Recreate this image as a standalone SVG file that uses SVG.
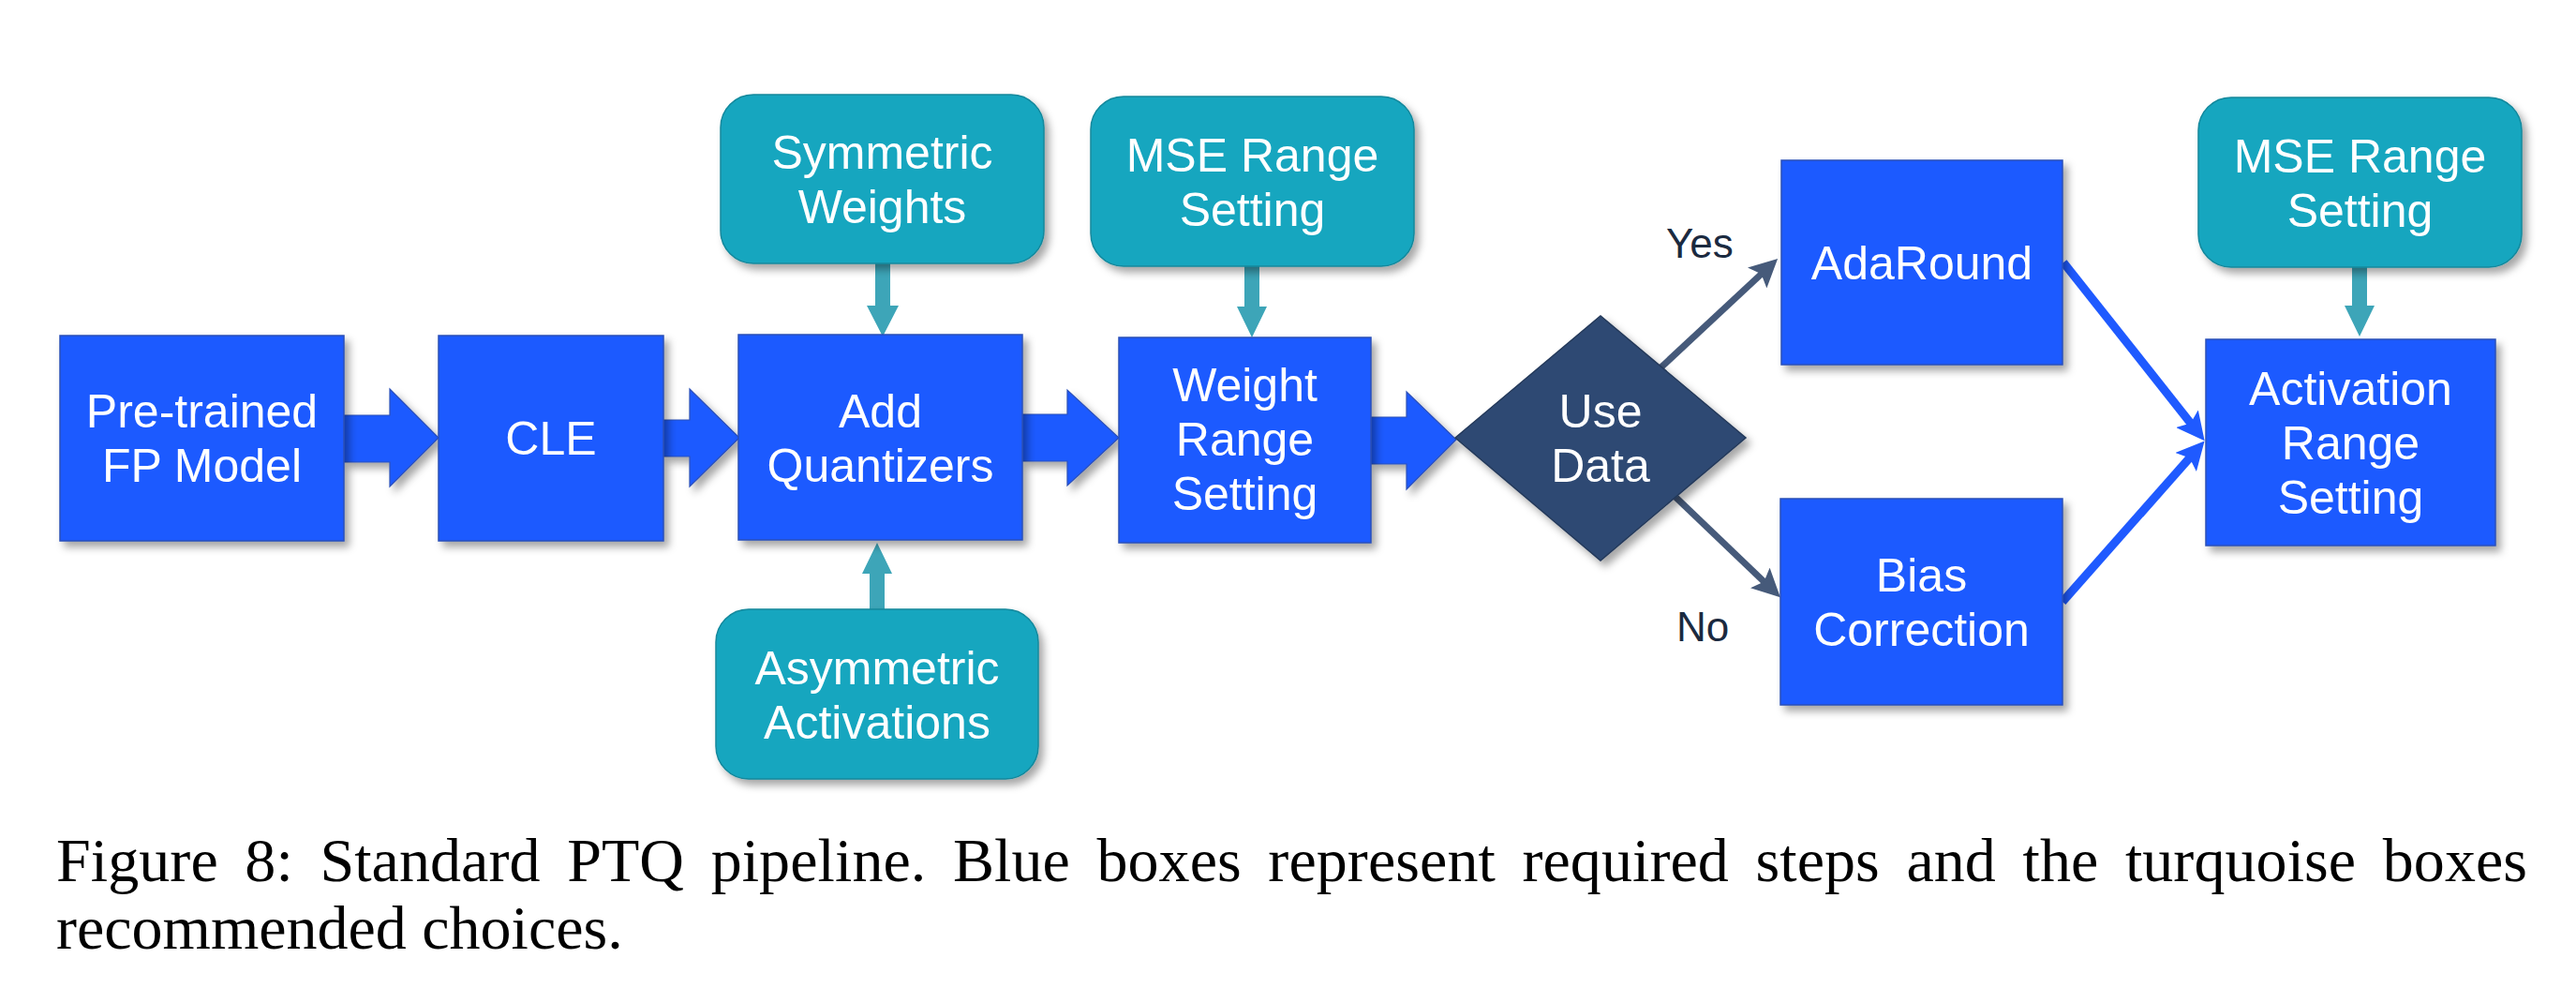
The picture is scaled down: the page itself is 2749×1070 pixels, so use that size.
<svg xmlns="http://www.w3.org/2000/svg" width="2749" height="1070" viewBox="0 0 2749 1070">
<defs>
<filter id="sh" x="-10%" y="-10%" width="130%" height="130%">
<feDropShadow dx="5" dy="6" stdDeviation="4" flood-color="#000" flood-opacity="0.35"/>
</filter>
<marker id="hDark" markerUnits="userSpaceOnUse" viewBox="0 0 30 30" markerWidth="30" markerHeight="30" refX="8" refY="15" orient="auto">
<path d="M0,0 L30,15 L0,30 L6,15 Z" fill="#465A7A"/>
</marker>
<marker id="hBlue" markerUnits="userSpaceOnUse" viewBox="0 0 30 30" markerWidth="30" markerHeight="30" refX="8" refY="15" orient="auto">
<path d="M0,0 L30,15 L0,30 L6,15 Z" fill="#1F5AFF"/>
</marker>
</defs>
<style>
.blue{fill:#1F5AFF;stroke:#2A4FB8;stroke-width:1.5}
.turq{fill:#17A6BF;stroke:#12889C;stroke-width:1.5}
.dia{fill:#2F4A73;stroke:#24395A;stroke-width:1.5}
.blk{fill:#1F5AFF;stroke:#2A4FB8;stroke-width:1.2}
.tc{fill:#3DA5B8}
.lbl{font-family:"Liberation Sans",Arial,sans-serif;font-size:50px;fill:#FFFFFF;text-anchor:middle}
.yn{font-family:"Liberation Sans",Arial,sans-serif;font-size:44px;fill:#1B2A40}
.dk{fill:none;stroke:#465A7A;stroke-width:7}
.bl{fill:none;stroke:#1F5AFF;stroke-width:9}
.cap{font-family:"Liberation Serif","Times New Roman",serif;font-size:66px;fill:#000}
</style>
<rect width="2749" height="1070" fill="#FFFFFF"/>
<g id="connectors">
<polygon class="blk" filter="url(#sh)" points="367,443 416,443 416,415 468,467 416,519 416,493 367,493"/>
<polygon class="blk" filter="url(#sh)" points="708,448 736,448 736,415 789,467 736,519 736,487 708,487"/>
<polygon class="blk" filter="url(#sh)" points="1091,442 1139,442 1139,416 1194,467 1139,518 1139,492 1091,492"/>
<polygon class="blk" filter="url(#sh)" points="1463,445 1501,445 1501,418 1554,469 1501,522 1501,495 1463,495"/>
<polygon class="tc" points="934,281 950,281 950,326 959,326 942,359 925,326 934,326"/>
<polygon class="tc" points="928,650 944,650 944,612 952,612 936,579 920,612 928,612"/>
<polygon class="tc" points="1328,284 1344,284 1344,327 1352,327 1336,360 1320,327 1328,327"/>
<polygon class="tc" points="2510,285 2526,285 2526,326 2534,326 2518,359 2502,326 2510,326"/>
<line class="dk" x1="1765" y1="399" x2="1881" y2="291" marker-end="url(#hDark)"/>
<line class="dk" x1="1770" y1="513" x2="1884" y2="622" marker-end="url(#hDark)"/>
<line class="bl" x1="2202" y1="280" x2="2339" y2="453" marker-end="url(#hBlue)"/>
<line class="bl" x1="2201" y1="642" x2="2338" y2="487" marker-end="url(#hBlue)"/>
<text class="yn" x="1778" y="275">Yes</text>
<text class="yn" x="1789" y="684">No</text>
</g>
<g id="pretrained">
<rect class="blue" filter="url(#sh)" x="64" y="358" width="303" height="219"/>
<text class="lbl" x="215.5" y="456">Pre-trained</text>
<text class="lbl" x="215.5" y="514">FP Model</text>
</g>
<g id="cle">
<rect class="blue" filter="url(#sh)" x="468" y="358" width="240" height="219"/>
<text class="lbl" x="588" y="485">CLE</text>
</g>
<g id="addquant">
<rect class="blue" filter="url(#sh)" x="788" y="357" width="303" height="219"/>
<text class="lbl" x="939.5" y="456">Add</text>
<text class="lbl" x="939.5" y="514">Quantizers</text>
</g>
<g id="symweights">
<rect class="turq" filter="url(#sh)" x="769" y="101" width="345" height="180" rx="35" ry="35"/>
<text class="lbl" x="941.5" y="180">Symmetric</text>
<text class="lbl" x="941.5" y="238">Weights</text>
</g>
<g id="asymact">
<rect class="turq" filter="url(#sh)" x="764" y="650" width="344" height="181" rx="35" ry="35"/>
<text class="lbl" x="936" y="730">Asymmetric</text>
<text class="lbl" x="936" y="788">Activations</text>
</g>
<g id="mse1">
<rect class="turq" filter="url(#sh)" x="1164" y="103" width="345" height="181" rx="35" ry="35"/>
<text class="lbl" x="1336.5" y="183">MSE Range</text>
<text class="lbl" x="1336.5" y="241">Setting</text>
</g>
<g id="weightrange">
<rect class="blue" filter="url(#sh)" x="1194" y="360" width="269" height="219"/>
<text class="lbl" x="1328.5" y="428">Weight</text>
<text class="lbl" x="1328.5" y="486">Range</text>
<text class="lbl" x="1328.5" y="544">Setting</text>
</g>
<g id="usedata">
<polygon class="dia" filter="url(#sh)" points="1553,467 1708,337 1863,467 1708,598"/>
<text class="lbl" x="1708" y="456">Use</text>
<text class="lbl" x="1708" y="514">Data</text>
</g>
<g id="adaround">
<rect class="blue" filter="url(#sh)" x="1901" y="171" width="300" height="218"/>
<text class="lbl" x="2051" y="298">AdaRound</text>
</g>
<g id="biascorr">
<rect class="blue" filter="url(#sh)" x="1900" y="532" width="301" height="220"/>
<text class="lbl" x="2050.5" y="631">Bias</text>
<text class="lbl" x="2050.5" y="689">Correction</text>
</g>
<g id="mse2">
<rect class="turq" filter="url(#sh)" x="2346" y="104" width="345" height="181" rx="35" ry="35"/>
<text class="lbl" x="2518.5" y="184">MSE Range</text>
<text class="lbl" x="2518.5" y="242">Setting</text>
</g>
<g id="actrange">
<rect class="blue" filter="url(#sh)" x="2354" y="362" width="309" height="220"/>
<text class="lbl" x="2508.5" y="432">Activation</text>
<text class="lbl" x="2508.5" y="490">Range</text>
<text class="lbl" x="2508.5" y="548">Setting</text>
</g>
<g id="caption">
<text class="cap" x="60" y="940" textLength="2637" lengthAdjust="spacing" word-spacing="12">Figure 8: Standard PTQ pipeline. Blue boxes represent required steps and the turquoise boxes</text>
<text class="cap" x="60" y="1012">recommended choices.</text>
</g>
</svg>
